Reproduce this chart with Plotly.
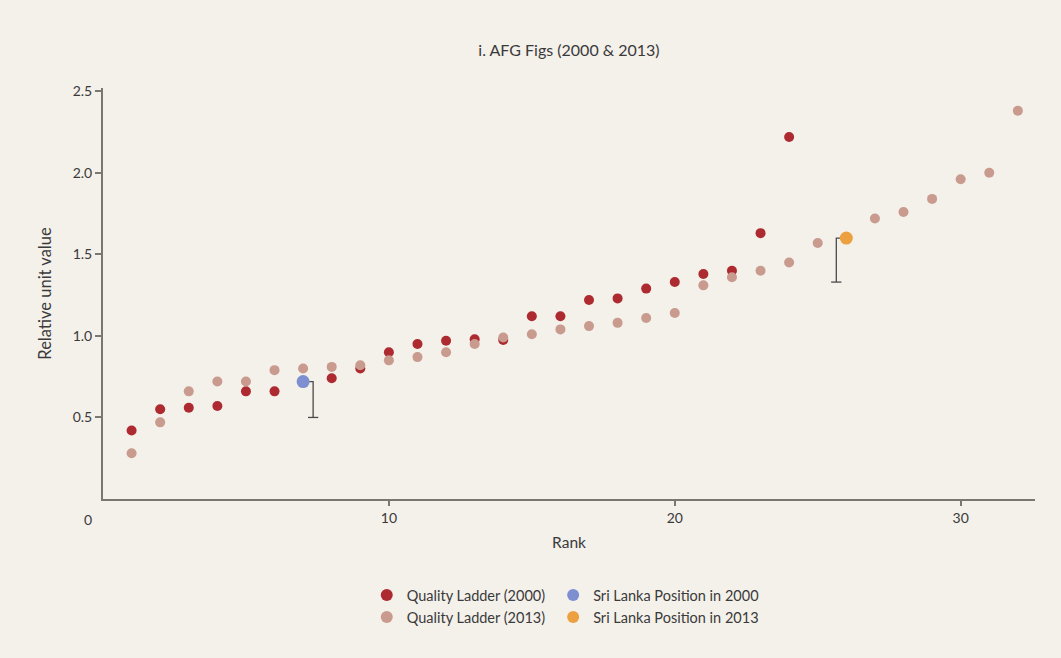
import plotly.graph_objects as go

# Rank positions on the quality ladder
ranks = list(range(1, 33))

# Relative unit values, 2000 ladder (None where no point is plotted)
ladder_2000 = [0.42, 0.55, 0.56, 0.57, 0.66, 0.66, None, 0.74, 0.80, 0.90,
               0.95, 0.97, 0.98, 0.975, 1.12, 1.12, 1.22, 1.23, 1.29, 1.33,
               1.38, 1.40, 1.63, 2.22, None, None, None, None, None, None,
               None, None]

# Relative unit values, 2013 ladder
ladder_2013 = [0.28, 0.47, 0.66, 0.72, 0.72, 0.79, 0.80, 0.81, 0.82, 0.85,
               0.87, 0.90, 0.95, 0.99, 1.01, 1.04, 1.06, 1.08, 1.11, 1.14,
               1.31, 1.36, 1.40, 1.45, 1.57, None, 1.72, 1.76, 1.84, 1.96,
               2.00, 2.38]

# Sri Lanka positions
sl_2000_rank, sl_2000_value, sl_2000_low = 7, 0.72, 0.50
sl_2013_rank, sl_2013_value, sl_2013_low = 26, 1.60, 1.33

y_ticks = [0.5, 1.0, 1.5, 2.0, 2.5]
y_tick_text = ["0.5", "1.0", "1.5", "2.0", "2.5"]
x_ticks = [10, 20, 30]

RED = "#ad2a30"
PINK = "#c99a8e"
BLUE = "#7d8fd0"
ORANGE = "#eda03f"
BG = "#f4f0ea"
AXIS = "#7a7672"
TEXT = "#3a3a3a"
FONT = "Lato"

fig = go.Figure()


def bracket(rank, top, low, side):
    """Connector from a Sri Lanka point down to its reference level."""
    off = 0.35 * side
    xs = [rank, rank + off, rank + off, None,
          rank + off - 0.18, rank + off + 0.18]
    ys = [top, top, low, None, low, low]
    return go.Scatter(x=xs, y=ys, mode="lines", showlegend=False,
                      hoverinfo="skip",
                      line=dict(color="#4a4a4a", width=1.3))


fig.add_trace(bracket(sl_2000_rank, sl_2000_value, sl_2000_low, 1))
fig.add_trace(bracket(sl_2013_rank, sl_2013_value, sl_2013_low, -1))

# left legend column: the two ladders
fig.add_trace(go.Scatter(
    x=ranks, y=ladder_2000, mode="markers", name="Quality Ladder (2000)",
    marker=dict(color=RED, size=10), legend="legend"))
fig.add_trace(go.Scatter(
    x=ranks, y=ladder_2013, mode="markers", name="Quality Ladder (2013)",
    marker=dict(color=PINK, size=10), legend="legend"))

# right legend column: Sri Lanka positions
fig.add_trace(go.Scatter(
    x=[sl_2000_rank], y=[sl_2000_value], mode="markers",
    name="Sri Lanka Position in 2000",
    marker=dict(color=BLUE, size=13), legend="legend2"))
fig.add_trace(go.Scatter(
    x=[sl_2013_rank], y=[sl_2013_value], mode="markers",
    name="Sri Lanka Position in 2013",
    marker=dict(color=ORANGE, size=13), legend="legend2"))

fig.add_annotation(x=0, y=0, xref="x", yref="y", text="0", showarrow=False,
                   xshift=-15, yshift=-20,
                   font=dict(family=FONT, size=14, color=TEXT))

legend_common = dict(
    orientation="v", xanchor="left", yanchor="top",
    bgcolor="rgba(0,0,0,0)", traceorder="normal",
    font=dict(family=FONT, size=14.5, color=TEXT), itemsizing="constant",
    itemwidth=30, tracegroupgap=0)

fig.update_layout(
    width=1061, height=658,
    paper_bgcolor=BG, plot_bgcolor=BG,
    margin=dict(l=103, r=26, t=88, b=159),
    title=dict(text="i. AFG Figs (2000 & 2013)", x=0.5, xref="paper",
               xanchor="center", y=1 - 50 / 658, yanchor="middle",
               font=dict(family=FONT, size=16, color=TEXT)),
    xaxis=dict(range=[0, 32.6], tickvals=x_ticks, showgrid=False,
               zeroline=False, showline=True, linecolor=AXIS, linewidth=2,
               ticks="outside", ticklen=5, tickcolor=AXIS, tickwidth=1.5,
               tickfont=dict(family=FONT, size=14, color=TEXT),
               title=dict(text="Rank", standoff=12,
                          font=dict(family=FONT, size=15.5, color=TEXT))),
    yaxis=dict(range=[0, 2.52], tickvals=y_ticks, ticktext=y_tick_text,
               showgrid=False, zeroline=False, showline=True, linecolor=AXIS,
               linewidth=2, ticks="outside", ticklen=6, tickcolor=AXIS,
               tickwidth=1.5,
               tickfont=dict(family=FONT, size=14, color=TEXT),
               title=dict(text="Relative unit value", standoff=17,
                          font=dict(family=FONT, size=16.5, color=TEXT))),
    legend=dict(x=0.283, y=-0.195, **legend_common),
    legend2=dict(x=0.483, y=-0.195, **legend_common),
)

fig.write_html("out.html")
